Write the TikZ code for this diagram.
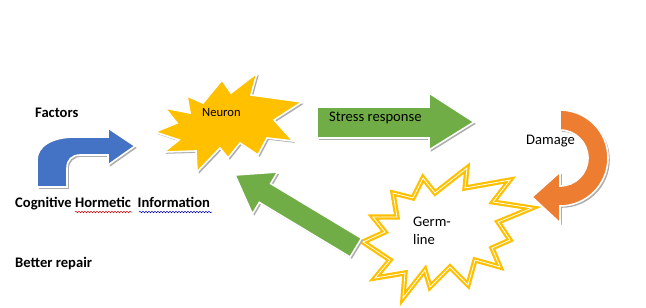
\documentclass[tikz,border=0pt]{standalone}
\usepackage{fontspec}
\setmainfont{Carlito}
\usetikzlibrary{shadows, decorations.pathmorphing}
\definecolor{azul}{HTML}{4472C4}
\definecolor{oro}{HTML}{FFC000}
\definecolor{verde}{HTML}{70AD47}
\definecolor{naranja}{HTML}{ED7D31}
\tikzset{
  forma/.style={draw=white, line width=1.6pt, line join=miter,
    drop shadow={shadow xshift=1.8pt, shadow yshift=-1.8pt,
      fill=black!32, opacity=1}},
  estrella/.style={fill=white, draw=oro, line width=2.2pt,
    double=white, double distance=0.8pt, line join=miter},
  texto/.style={font=\fontsize{14.6}{18}\selectfont, inner sep=0pt,
    anchor=west, align=left},
  negrita/.style={texto, font=\fontsize{14.6}{18}\selectfont\bfseries},
  corrector/.style={decorate, decoration={snake, amplitude=0.7pt,
    segment length=3pt}, line width=0.5pt}
}
\begin{document}
\begin{tikzpicture}[x=1pt, y=-1pt]
  \useasboundingbox[fill=white] (0,0) rectangle (646,308);
  % flecha curva azul
  \fill[azul, forma] (37,187) -- (37,160)
    .. controls (37,146) and (52,137) .. (75,137) -- (108,137)
    -- (108,128) -- (135,146) -- (108,165) -- (108,155) -- (80,155)
    .. controls (72,155) and (67,160) .. (67,168) -- (67,187) -- cycle;
  % explosion Neuron
  \fill[oro, forma] (187,96) -- (203,103) -- (222,80) -- (231,93)
    -- (257,73) -- (251,95) -- (302,102) -- (274,120) -- (293,141)
    -- (267,138) -- (258,155) -- (240,143) -- (228,158) -- (220,148)
    -- (197,172) -- (196,151) -- (164,152) -- (179,140) -- (155,132)
    -- (177,123) -- (165,108) -- (190,113) -- cycle;
  % flecha Stress response
  \fill[verde, forma] (317,107) -- (429,107) -- (429,93) -- (474,122)
    -- (429,150) -- (429,138) -- (317,138) -- cycle;
  % flecha circular Damage
  \fill[naranja, forma] (560,110) arc[start angle=-90, end angle=90, radius=48]
    -- (560,223) -- (532,197) -- (560,172) -- (560,186)
    arc[start angle=90, end angle=-90, radius=28] -- cycle;
  % explosion Germ-line
  \draw[estrella] (363,242) -- (385,232) -- (373,217) -- (397,217)
    -- (393,193) -- (413,198) -- (423,178) -- (435,193) -- (467,168)
    -- (465,188) -- (510,180) -- (493,202) -- (532,208) -- (498,222)
    -- (510,240) -- (492,248) -- (500,267) -- (475,260) -- (468,285)
    -- (450,267) -- (430,287) -- (425,270) -- (403,298) -- (405,273)
    -- (375,278) -- (390,260) -- cycle;
  % flecha de vuelta
  \fill[verde, forma] (235,175) -- (277.6,172) -- (270.7,183.6)
    -- (361.5,238.2) -- (350.1,257) -- (259.3,202.4) -- (252.4,214) -- cycle;
  % textos
  \node[negrita] (factores) at (35,113) {Factors};
  \node[negrita] (cognitiva) at (15,204) {Cognitive Hormetic\ \ Information};
  \node[negrita] (reparacion) at (15,264) {Better repair};
  \node[texto, font=\fontsize{12.6}{15}\selectfont] (neurona) at (202,113) {Neuron};
  \node[texto] (estres) at (329,118) {Stress response};
  \node[texto] (dano) at (526,141) {Damage};
  \node[texto] (germen) at (413,231) {Germ-\\line};
  \draw[corrector, red!80!black] (75,212) -- (132,212);
  \draw[corrector, blue!70!black] (139,212) -- (212,212);
\end{tikzpicture}
\end{document}
